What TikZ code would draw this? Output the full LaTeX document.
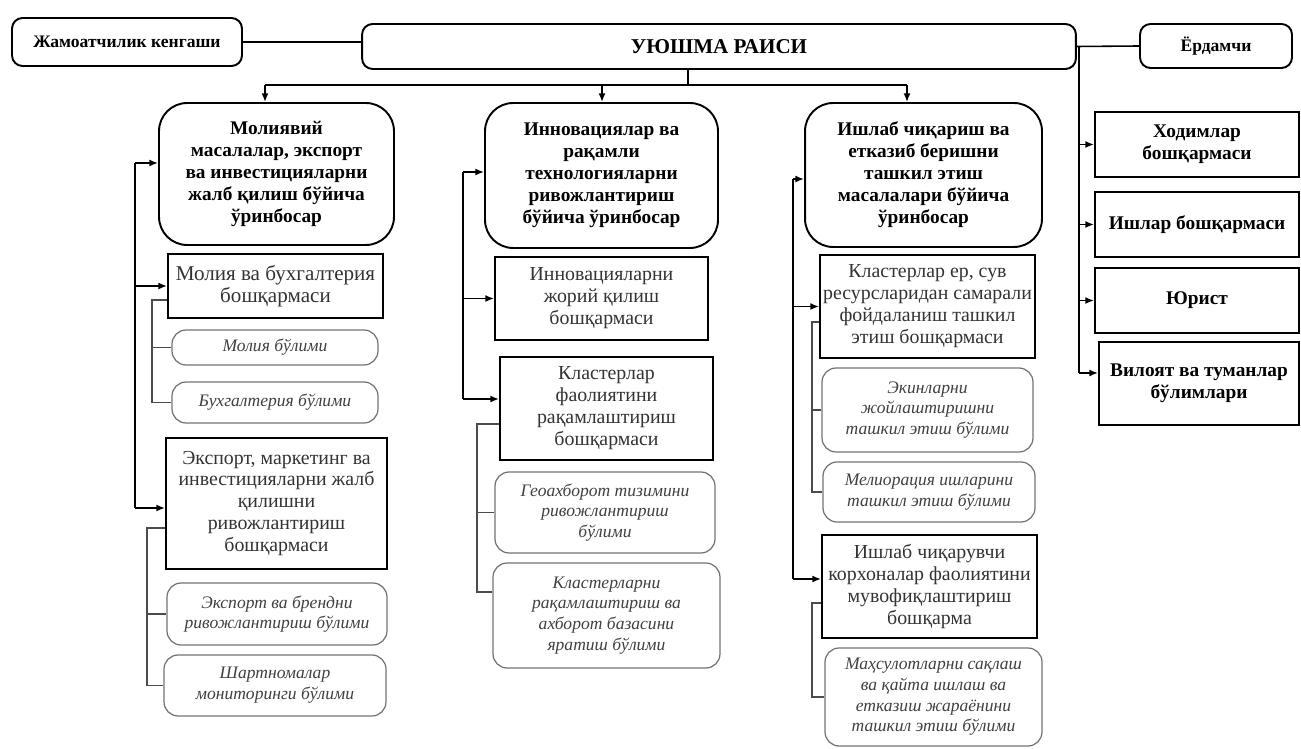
\documentclass[tikz,border=0pt]{standalone}
\usepackage{fontspec}
\setmainfont{Liberation Serif}
\usetikzlibrary{calc,arrows,arrows.meta}

\tikzset{
	head/.style={draw, line width=1.1pt, rounded corners=6pt, inner sep=0pt, align=center, font=\fontsize{10}{12}\selectfont\bfseries},
	deputy/.style={draw, line width=1.1pt, rounded corners=16pt, inner sep=0pt, align=center, font=\fontsize{11}{12.5}\selectfont\bfseries},
	dept/.style={draw, line width=1.1pt, inner sep=0pt, align=center, text=black!80, font=\fontsize{11.3}{12.5}\selectfont},
	staff/.style={draw, line width=1.1pt, inner sep=0pt, align=center, font=\fontsize{11}{12.5}\selectfont\bfseries},
	unit/.style={draw=black!55, line width=0.7pt, rounded corners=8pt, inner sep=0pt, align=center, text=black!75, font=\fontsize{10}{11.8}\selectfont\itshape},
	link/.style={line width=0.9pt},
	arr/.style={->, >={Latex[length=5pt,width=4pt]}, line width=0.9pt},
	sublink/.style={line width=0.7pt, black!70}
}

\begin{document}
\begin{tikzpicture}[x=0.02cm, y=-0.02cm]
	\useasboundingbox (0,0) rectangle (1301,749);

	%top row
	\node[head, minimum width=4.6cm, minimum height=0.96cm] (jam) at (127,42) {Жамоатчилик кенгаши};
	\node[head, minimum width=14.28cm, minimum height=0.9cm, font=\fontsize{12}{12.5}\selectfont\bfseries] (rais) at (719,46.5) {УЮШМА РАИСИ};
	\node[head, minimum width=3.04cm, minimum height=0.88cm] (yor) at (1216,46) {Ёрдамчи};

	%deputies
	\node[deputy, minimum width=4.7cm, minimum height=2.84cm] (dep1) at (276.5,174) {Молиявий\\масалалар, экспорт\\ва инвестицияларни\\жалб қилиш бўйича\\ўринбосар};
	\node[deputy, minimum width=4.66cm, minimum height=2.9cm] (dep2) at (601.5,175.5) {Инновациялар ва\\рақамли\\технологияларни\\ривожлантириш\\бўйича ўринбосар};
	\node[deputy, minimum width=4.74cm, minimum height=2.88cm] (dep3) at (923.5,175) {Ишлаб чиқариш ва\\етказиб беришни\\ташкил этиш\\масалалари бўйича\\ўринбосар};

	%left column
	\node[dept, minimum width=4.3cm, minimum height=1.28cm, font=\fontsize{12}{12.5}\selectfont] (mb) at (275.5,286) {Молия ва бухгалтерия\\бошқармаси};
		\node[unit, minimum width=4.12cm, minimum height=0.7cm] (mo) at (275,347.5) {Молия бўлими};
		\node[unit, minimum width=4.12cm, minimum height=0.82cm] (bu) at (275,402.5) {Бухгалтерия бўлими};
	\node[dept, minimum width=4.42cm, minimum height=2.62cm] (ex) at (276.5,503.5) {Экспорт, маркетинг ва\\инвестицияларни жалб\\қилишни\\ривожлантириш\\бошқармаси};
		\node[unit, minimum width=4.4cm, minimum height=1.24cm] (eb) at (277,614) {Экспорт ва брендни\\ривожлантириш бўлими};
		\node[unit, minimum width=4.44cm, minimum height=1.22cm] (sh) at (275,685.5) {Шартномалар\\мониторинги бўлими};

	%middle column
	\node[dept, minimum width=4.26cm, minimum height=1.66cm] (ij) at (601.5,298.5) {Инновацияларни\\жорий қилиш\\бошқармаси};
	\node[dept, minimum width=4.26cm, minimum height=2.06cm] (kf) at (606.5,408.5) {Кластерлар\\фаолиятини\\рақамлаштириш\\бошқармаси};
		\node[unit, minimum width=4.4cm, minimum height=1.62cm] (ge) at (605,512.5) {Геоахборот тизимини\\ривожлантириш\\бўлими};
		\node[unit, minimum width=4.54cm, minimum height=2.1cm] (kr) at (606.5,615.5) {Кластерларни\\рақамлаштириш ва\\ахборот базасини\\яратиш бўлими};

	%right column
	\node[dept, minimum width=4.3cm, minimum height=2.06cm] (ks) at (927.5,306.5) {Кластерлар ер, сув\\ресурсларидан самарали\\фойдаланиш ташкил\\этиш бошқармаси};
		\node[unit, minimum width=4.22cm, minimum height=1.68cm] (ek) at (927.5,410) {Экинларни\\жойлаштиришни\\ташкил этиш бўлими};
		\node[unit, minimum width=4.24cm, minimum height=1.2cm] (me) at (929,492) {Мелиорация ишларини\\ташкил этиш бўлими};
	\node[dept, minimum width=4.3cm, minimum height=2.06cm] (ic) at (929.5,586.5) {Ишлаб чиқарувчи\\корхоналар фаолиятини\\мувофиқлаштириш\\бошқарма};
		\node[unit, minimum width=4.34cm, minimum height=1.96cm] (ma) at (933.5,697) {Маҳсулотларни сақлаш\\ва қайта ишлаш ва\\етказиш жараёнини\\ташкил этиш бўлими};

	%staff boxes
	\node[staff, minimum width=4.08cm, minimum height=1.3cm] (ho) at (1197,144.5) {Ходимлар\\бошқармаси};
	\node[staff, minimum width=4.08cm, minimum height=1.3cm] (is) at (1197,224.5) {Ишлар бошқармаси};
	\node[staff, minimum width=4.08cm, minimum height=1.3cm] (yu) at (1197,300.5) {Юрист};
	\node[staff, minimum width=4.0cm, minimum height=1.66cm] (vi) at (1199,383.5) {Вилоят ва туманлар\\бўлимлари};

	%top links
	\draw[link] (jam.east) -- (jam.east -| rais.west);
	\draw[link] (rais.east) -- (yor.west);
	\coordinate (bus) at (688,85);
	\coordinate (bL) at (265,85);
	\coordinate (bM) at (602,85);
	\coordinate (bR) at (907,85);
	\draw[link] (rais.south -| bus) -- (bus);
	\draw[link] (bL) -- (bR);
	\draw[arr] (bL) -- (bL |- dep1.north);
	\draw[arr] (bM) -- (bM |- dep2.north);
	\draw[arr] (bR) -- (bR |- dep3.north);

	%staff spine
	\coordinate (sS) at (1079,46);
	\coordinate (sSb) at (1079,373);
	\draw[link] (sS) -- (sSb);
	\draw[arr] (sS |- ho.west) -- (ho.west);
	\draw[arr] (sS |- is.west) -- (is.west);
	\draw[arr] (sS |- yu.west) -- (yu.west);
	\draw[arr] (sSb) -- (sSb -| vi.west);

	%column spines
	\coordinate (sL) at (135,163);
	\coordinate (sLb) at (135,508);
	\draw[link] (sL) -- (sLb);
	\draw[arr] (sL) -- (sL -| dep1.west);
	\draw[arr] (sL |- mb.west) -- (mb.west);
	\draw[arr] (sLb) -- (sLb -| ex.west);
	%
	\coordinate (sM) at (463,172);
	\coordinate (sMb) at (463,399);
	\draw[link] (sM) -- (sMb);
	\draw[arr] (sM) -- (sM -| dep2.west);
	\draw[arr] (sM |- ij.west) -- (ij.west);
	\draw[arr] (sMb) -- (sMb -| kf.west);
	%
	\coordinate (sR) at (793,179);
	\coordinate (sRb) at (793,579);
	\draw[link] (sR) -- (sRb);
	\draw[arr] (sR) -- (sR -| dep3.west);
	\draw[arr] (sR |- ks.west) -- (ks.west);
	\draw[arr] (sRb) -- (sRb -| ic.west);

	%sub brackets
	\coordinate (kL1) at (152,300);
	\draw[sublink] (kL1 -| mb.west) -- (kL1) |- (bu.west);
	\draw[sublink] (kL1 |- mo.west) -- (mo.west);
	\coordinate (kL2) at (147,528);
	\draw[sublink] (kL2 -| ex.west) -- (kL2) |- (sh.west);
	\draw[sublink] (kL2 |- eb.west) -- (eb.west);
	%
	\coordinate (kM) at (477,424);
	\coordinate (kMb) at (477,592);
	\draw[sublink] (kM -| kf.west) -- (kM) -- (kMb) -- (kMb -| kr.west);
	\draw[sublink] (kM |- ge.west) -- (ge.west);
	%
	\coordinate (kR1) at (812,322);
	\draw[sublink] (kR1 -| ks.west) -- (kR1) |- (me.west);
	\draw[sublink] (kR1 |- ek.west) -- (ek.west);
	\coordinate (kR2) at (812,603);
	\draw[sublink] (kR2 -| ic.west) -- (kR2) |- (ma.west);
\end{tikzpicture}
\end{document}
